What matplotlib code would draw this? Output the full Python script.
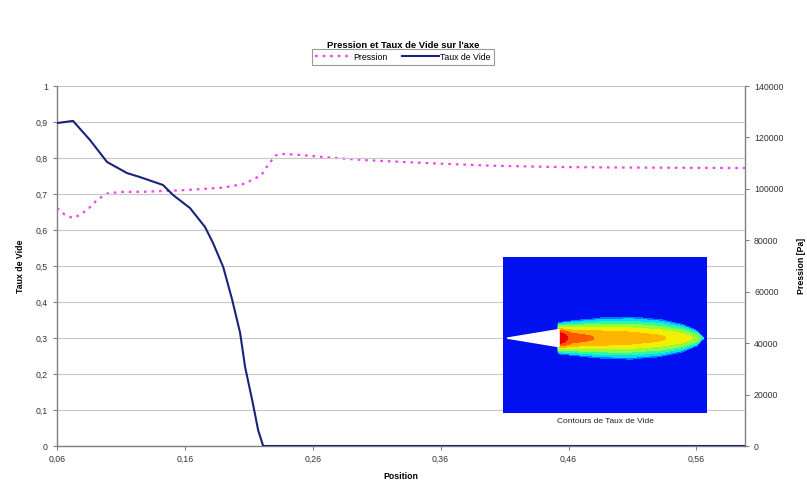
import numpy as np
import matplotlib
matplotlib.use("Agg")
import matplotlib.pyplot as plt
from matplotlib.ticker import FixedLocator, FuncFormatter

plt.rcParams['font.family'] = ['Liberation Sans', 'DejaVu Sans']

# ---------------- data ----------------
taux_pos = [0.060, 0.0725, 0.0858, 0.0991, 0.1148, 0.1249, 0.1429, 0.1508, 0.164,
            0.1758, 0.182, 0.190, 0.197, 0.2032, 0.2071, 0.2126, 0.2173, 0.2212,
            0.30, 0.40, 0.50, 0.598]
taux_val = [0.897, 0.903, 0.850, 0.789, 0.758, 0.747, 0.725, 0.697, 0.661,
            0.608, 0.564, 0.497, 0.406, 0.314, 0.219, 0.128, 0.044, 0.0,
            0.0, 0.0, 0.0, 0.0]

pres_pos = [0.060, 0.066, 0.072, 0.078, 0.085, 0.092, 0.100, 0.110, 0.130, 0.160,
            0.190, 0.205, 0.213, 0.220, 0.226, 0.231, 0.236, 0.250, 0.270, 0.300,
            0.350, 0.400, 0.450, 0.500, 0.598]
pres_val = [92500, 90000, 88700, 89800, 92500, 96000, 98300, 98800, 98900, 99500,
            100500, 101800, 103500, 105500, 110000, 113000, 113600, 113200, 112300, 111200,
            110000, 109000, 108500, 108300, 108100]

x_ticks = [0.06, 0.16, 0.26, 0.36, 0.46, 0.56]
x_ticklabels = ["0,06", "0,16", "0,26", "0,36", "0,46", "0,56"]
left_ticks = [0, 0.1, 0.2, 0.3, 0.4, 0.5, 0.6, 0.7, 0.8, 0.9, 1.0]
right_ticks = [0, 20000, 40000, 60000, 80000, 100000, 120000, 140000]

title = "Pression et Taux de Vide sur l'axe"
xlabel = "Position"
ylabel_left = "Taux de Vide"
ylabel_right = "Pression [Pa]"
inset_caption = "Contours de Taux de Vide"

# inset plume description (fraction of inset box)
plume_s = [0.0, 0.1, 0.3, 0.5, 0.7, 0.85, 0.95, 1.0]
plume_level = [0.95, 0.80, 0.745, 0.72, 0.69, 0.65, 0.58, 0.40]
plume_halfwidth = [0.10, 0.112, 0.13, 0.135, 0.12, 0.09, 0.05, 0.0]
band_levels = [0, 0.2, 0.3, 0.4, 0.5, 0.6, 0.68, 0.76, 0.85, 1.0]
band_colors = ['#0010F0', '#0078FF', '#00D8FF', '#30F8A0', '#90FF40',
               '#F0F000', '#FFB400', '#FF5A00', '#EE0000']

# ---------------- figure ----------------
W, H = 807, 486
fig = plt.figure(figsize=(W / 100, H / 100), dpi=100)
fig.patch.set_facecolor("white")

L, R, T, B = 57, 745, 86, 446
ax = fig.add_axes([L / W, 1 - B / H, (R - L) / W, (B - T) / H])
ax2 = ax.twinx()

gray = "#808080"
fs = 6.3

ax.set_xlim(0.06, 0.598)
ax.set_ylim(0, 1)
ax2.set_ylim(0, 140000)

ax.yaxis.set_major_locator(FixedLocator(left_ticks))
ax.yaxis.set_major_formatter(FuncFormatter(
    lambda v, p: ("%g" % round(v, 1)).replace(".", ",")))
ax2.yaxis.set_major_locator(FixedLocator(right_ticks))
ax2.yaxis.set_major_formatter(FuncFormatter(lambda v, p: "%d" % v))
ax.set_xticks(x_ticks)
ax.set_xticklabels(x_ticklabels)

ax.grid(axis="y", color="#C8C8C8", linewidth=0.8)
ax.set_axisbelow(True)

for a in (ax, ax2):
    a.spines["top"].set_visible(False)
    for s in ("left", "right", "bottom"):
        a.spines[s].set_color(gray)
        a.spines[s].set_linewidth(1.0)
    a.tick_params(colors=gray, labelcolor="#333333", labelsize=fs, length=3, width=0.8)
ax.spines["right"].set_visible(False)
ax2.spines["left"].set_visible(False)
ax2.spines["bottom"].set_visible(False)

lp, = ax2.plot(pres_pos, pres_val, color="#EE44EE", linestyle=(0, (1.2, 2.2)),
               linewidth=1.6, label="Pression", zorder=3)
lt, = ax.plot(taux_pos, taux_val, color="#1A237A", linewidth=1.5,
              label="Taux de Vide", zorder=4)
ax.set_zorder(ax2.get_zorder() + 1)
ax.patch.set_visible(False)

ax.set_xlabel(xlabel, fontsize=fs, fontweight="bold", labelpad=6)
ax.set_ylabel(ylabel_left, fontsize=fs, fontweight="bold", labelpad=8)
ax2.set_ylabel(ylabel_right, fontsize=fs, fontweight="bold", labelpad=10)

fig.text(0.5, 1 - 45 / H, title, ha="center", va="center", fontsize=6.8, fontweight="bold")
leg = fig.legend(handles=[lp, lt], loc="center", bbox_to_anchor=(403 / W, 1 - 57 / H),
                 ncol=2, fontsize=fs, frameon=True, fancybox=False, handlelength=4.2,
                 columnspacing=1.6, handletextpad=0.2, borderpad=0.35)
leg.get_frame().set_edgecolor(gray)
leg.get_frame().set_linewidth(0.8)

# ---------------- inset contour picture ----------------
IL, IR, IT, IB = 503, 707, 257, 413
axi = fig.add_axes([IL / W, 1 - IB / H, (IR - IL) / W, (IB - IT) / H])
axi.set_zorder(20)
u = np.linspace(0, 1, 500)
v = np.linspace(0, 1, 400)
U, V = np.meshgrid(u, v)
vc = 0.48
u0, u1 = 0.27, 0.985
s = np.clip((U - u0) / (u1 - u0), 0, 1)
inside = (U >= u0) & (U <= u1)
h = np.interp(s, plume_s, plume_halfwidth) + 1e-6
A = np.interp(s, plume_s, plume_level)
d = np.abs(V - vc) / h
prof = np.clip(1 - d ** 2, 0, 1)
F = np.where(inside & (d < 1), 0.22 + (A - 0.22) * prof, 0.0)
axi.contourf(U, V, F, levels=band_levels, colors=band_colors)
axi.fill([0.02, u0 + 0.005, u0 + 0.005], [vc, vc + 0.055, vc - 0.055], color="white", zorder=3)
axi.set_xlim(0, 1)
axi.set_ylim(0, 1)
axi.set_xticks([])
axi.set_yticks([])
for sp in axi.spines.values():
    sp.set_visible(False)
fig.text((IL + IR) / 2 / W, 1 - 421 / H, inset_caption, ha="center", va="center",
         fontsize=6, color="#222222")

fig.savefig("out.png", dpi=100, facecolor="white")
